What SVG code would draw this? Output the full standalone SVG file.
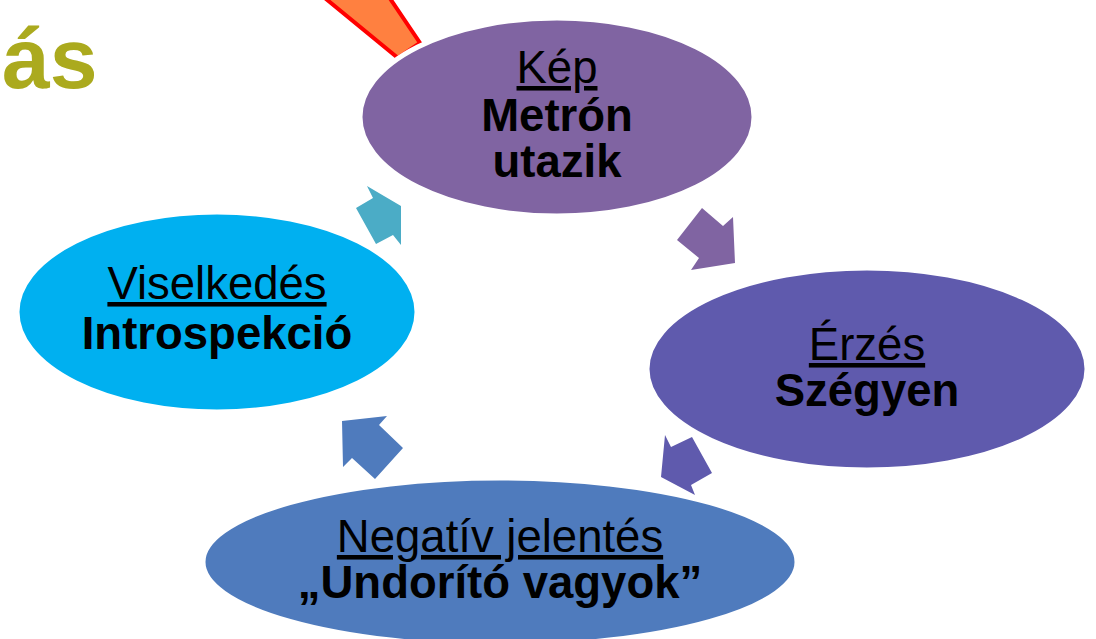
<svg xmlns="http://www.w3.org/2000/svg" width="1096" height="639" viewBox="0 0 1096 639">
<style>
text{font-family:"Liberation Sans",Arial,sans-serif;font-size:45.5px;fill:#000;text-anchor:middle}
.u{text-decoration:underline}
.b{font-weight:bold}
.node ellipse{stroke:#fff;stroke-width:5}
</style>
<rect width="1096" height="639" fill="#fff"/>
<text x="2" y="88" style="font-size:86px;font-weight:bold;fill:#ABAA1E;text-anchor:start">ás</text>
<polygon points="320,-6 398,58 420,43 387,-6" fill="#FF8040" stroke="#FF0000" stroke-width="4" stroke-linejoin="miter"/>
<g id="connectors">
<polygon points="702,208 723,226 733,217 735,263 691,270 699,258 677,240" fill="#8064A2"/>
<polygon points="665,435 671,447 692,437 712,473 691,485 695,495 661,477" fill="#5F5AAD"/>
<polygon points="342,421 387,416 379,425 403,448 375,479 352,458 343,467" fill="#4F7BBD"/>
<polygon points="367,186 373,198 356,208 376,244 393,235 401,245 401,206" fill="#4BACC6"/>
</g>
<g id="node-kep" class="node">
<ellipse cx="557" cy="117" rx="197" ry="99" fill="#8064A2"/>
<text x="557" y="83" class="u">Kép</text>
<text x="557" y="131" class="b">Metrón</text>
<text x="557" y="177" class="b">utazik</text>
</g>
<g id="node-erzes" class="node">
<ellipse cx="867" cy="369" rx="220" ry="101" fill="#5F5AAD"/>
<text x="867" y="360" class="u">Érzés</text>
<text x="867" y="406" class="b">Szégyen</text>
</g>
<g id="node-negativ" class="node">
<ellipse cx="500" cy="562" rx="297" ry="84" fill="#4F7BBD"/>
<text x="500" y="552" class="u">Negatív jelentés</text>
<text x="500" y="598" class="b">„Undorító vagyok”</text>
</g>
<g id="node-viselkedes" class="node">
<ellipse cx="217" cy="312" rx="200" ry="100" fill="#00B0F0"/>
<text x="217" y="299" class="u">Viselkedés</text>
<text x="217" y="349" class="b">Introspekció</text>
</g>
</svg>
